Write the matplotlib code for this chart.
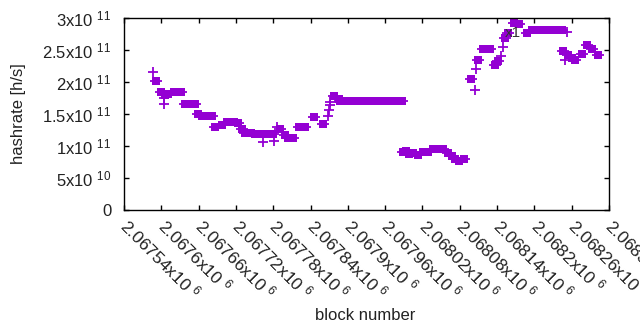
import matplotlib
matplotlib.use("Agg")
import matplotlib.pyplot as plt

PURPLE = "#9400d3"

# square markers (block, hashrate)
sq_block = [2067591, 2067599, 2067606, 2067610, 2067620, 2067626, 2067632,
            2067638, 2067644, 2067650, 2067654, 2067659, 2067665, 2067671,
            2067677, 2067682, 2067687, 2067697, 2067705, 2067711, 2067717,
            2067724, 2067729, 2067735, 2067740, 2067745, 2067751, 2067755,
            2067769, 2067775, 2067780, 2067791, 2067799, 2067804, 2067808,
            2067812, 2067821, 2067826, 2067831, 2067846, 2067860, 2067878,
            2067885, 2067887, 2067892, 2067898, 2067904, 2067910, 2067916,
            2067922, 2067928, 2067934, 2067940, 2067946, 2067952, 2067958,
            2067964, 2067970, 2067976, 2067982, 2067987, 2067989, 2067993,
            2067999, 2068005, 2068013, 2068021, 2068025, 2068029, 2068037,
            2068042, 2068048, 2068053, 2068061, 2068067, 2068072, 2068078,
            2068086, 2068098, 2068110, 2068117, 2068123, 2068129, 2068137,
            2068141, 2068152, 2068157, 2068168, 2068175, 2068188, 2068196,
            2068202, 2068208, 2068214, 2068220, 2068226, 2068232, 2068238,
            2068245, 2068246, 2068254, 2068260, 2068265, 2068276, 2068285,
            2068293, 2068302]
sq_rate = [2.01, 1.84, 1.80, 1.81, 1.84, 1.84, 1.84,
           1.65, 1.65, 1.65, 1.65, 1.50, 1.47, 1.47,
           1.47, 1.47, 1.30, 1.33, 1.37, 1.37, 1.37,
           1.36, 1.26, 1.21, 1.21, 1.21, 1.18, 1.18,
           1.18, 1.18, 1.18, 1.26, 1.17, 1.12, 1.12,
           1.12, 1.29, 1.29, 1.29, 1.46, 1.34, 1.78,
           1.74, 1.71, 1.70, 1.70, 1.70, 1.70, 1.70,
           1.70, 1.70, 1.70, 1.70, 1.70, 1.70, 1.70,
           1.70, 1.70, 1.70, 1.70, 1.70, 0.91, 0.92,
           0.88, 0.89, 0.86, 0.90, 0.90, 0.91, 0.95,
           0.95, 0.96, 0.95, 0.89, 0.84, 0.80, 0.77,
           0.79, 2.05, 2.34, 2.51, 2.51, 2.51, 2.27,
           2.33, 2.69, 2.76, 2.92, 2.90, 2.76, 2.81,
           2.81, 2.81, 2.81, 2.81, 2.81, 2.81, 2.81,
           2.81, 2.49, 2.42, 2.37, 2.34, 2.44, 2.58,
           2.51, 2.42]

# lone '+' markers
pl_block = [2067587, 2067605, 2067605, 2067763, 2067782, 2067786, 2067868,
            2067869, 2067871, 2067872, 2068104, 2068106, 2068147, 2068150,
            2068253, 2068250]
pl_rate = [2.15, 1.75, 1.65, 1.07, 1.08, 1.30, 1.47,
           1.56, 1.64, 1.68, 1.875, 2.21, 2.40, 2.55,
           2.78, 2.35]

xticks = list(range(2067540, 2068321, 60))
xlabels = [f"{t / 1e6:.6g}x10 $^{{6}}$" for t in xticks]
yticks = [0, 0.5e11, 1e11, 1.5e11, 2e11, 2.5e11, 3e11]
ylabels = ["0", "5x10 $^{10}$", "1x10 $^{11}$", "1.5x10 $^{11}$",
           "2x10 $^{11}$", "2.5x10 $^{11}$", "3x10 $^{11}$"]

plt.rcParams.update({
    "font.family": "Liberation Sans", "mathtext.fontset": "custom",
    "mathtext.rm": "Liberation Sans", "mathtext.it": "Liberation Sans",
    "font.size": 12})

fig = plt.figure(figsize=(6.4, 3.3), dpi=100)
ax = fig.add_axes([124 / 640, 1 - 210 / 330, 485 / 640, 192 / 330])

sq_y = [v * 1e11 for v in sq_rate]
pl_y = [v * 1e11 for v in pl_rate]
ax.plot(sq_block, sq_y, ls="none", marker="_", ms=9, mew=1.3, color=PURPLE)
ax.plot(sq_block, sq_y, ls="none", marker="s", ms=5.3, mew=0, color=PURPLE)
ax.plot(pl_block, pl_y, ls="none", marker="+", ms=7.5, mew=1.3, color=PURPLE)

ax.set_xlim(2067540, 2068320)
ax.set_ylim(0, 3e11)
ax.set_xticks(xticks)
ax.set_xticklabels(xlabels, rotation=-45, ha="left", va="center",
                   rotation_mode="anchor", fontsize=12.5)
ax.set_yticks(yticks)
ax.set_yticklabels(ylabels)
ax.tick_params(direction="in", length=3.5, width=1, top=True, right=True,
               colors="black", labelcolor="#222222")
ax.tick_params(axis="x", pad=9)
ax.tick_params(axis="y", pad=9)
for s in ax.spines.values():
    s.set_linewidth(1)
fig.text(365 / 640, 1 - 315 / 330, "block number", ha="center", va="center",
         color="#222222")
ax.set_ylabel("hashrate [h/s]", labelpad=12, color="#222222")

ax.text(0.785, 0.92, "x1", transform=ax.transAxes, fontsize=11,
        color="#333333", ha="left", va="center")

fig.savefig("out.png", dpi=100)
